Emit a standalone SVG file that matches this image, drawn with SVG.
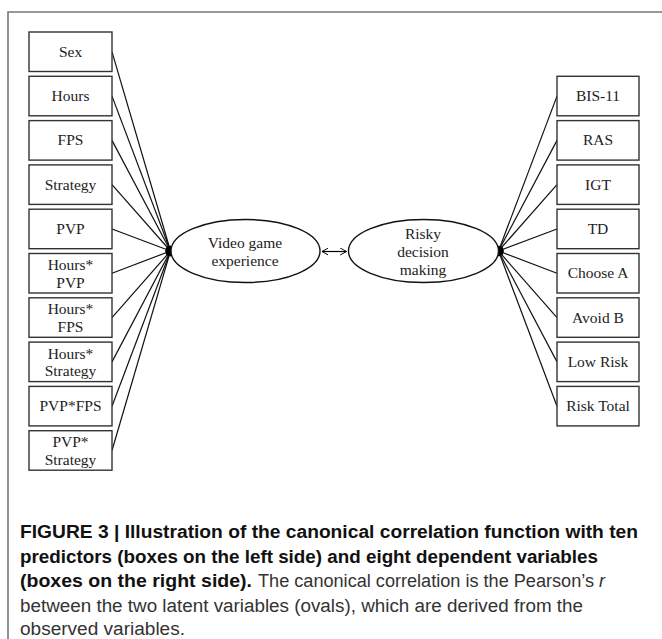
<svg xmlns="http://www.w3.org/2000/svg" width="662" height="639" viewBox="0 0 662 639">
<defs>
<marker id="ah" viewBox="0 0 10 10" refX="10" refY="5" markerWidth="7" markerHeight="5" markerUnits="userSpaceOnUse" orient="auto">
<path d="M0,0 L10,5 L0,10 z" fill="#000"/>
</marker>
<marker id="open" viewBox="0 0 10 10" refX="9" refY="5" markerWidth="7" markerHeight="8" markerUnits="userSpaceOnUse" orient="auto-start-reverse">
<path d="M0,0 L9,5 L0,10" fill="none" stroke="#000" stroke-width="1.4"/>
</marker>
<style>
.box{fill:#fff;stroke:#333;stroke-width:1.4}
.ell{fill:#fff;stroke:#111;stroke-width:1.4}
.t{font-family:"Liberation Serif","Times New Roman",serif;font-size:15.5px;fill:#222;text-anchor:middle}
.c{stroke:#111;stroke-width:1.2;fill:none;marker-end:url(#ah)}
.cap{font-family:"Liberation Sans Narrow","Liberation Sans",Arial,sans-serif;font-size:18px}
.b{font-weight:bold;fill:#111}
.r{fill:#333}
</style>
</defs>
<rect width="662" height="639" fill="#fff"/>
<path d="M8,639 V12 H662" fill="none" stroke="#777" stroke-width="1.6"/>

<g id="connectors">
<line class="c" x1="112" y1="51.8" x2="170.5" y2="251"/>
<line class="c" x1="112" y1="96.1" x2="170.5" y2="251"/>
<line class="c" x1="112" y1="140.4" x2="170.5" y2="251"/>
<line class="c" x1="112" y1="184.7" x2="170.5" y2="251"/>
<line class="c" x1="112" y1="229" x2="170.5" y2="251"/>
<line class="c" x1="112" y1="273.3" x2="170.5" y2="251"/>
<line class="c" x1="112" y1="317.6" x2="170.5" y2="251"/>
<line class="c" x1="112" y1="361.9" x2="170.5" y2="251"/>
<line class="c" x1="112" y1="406.2" x2="170.5" y2="251"/>
<line class="c" x1="112" y1="450.5" x2="170.5" y2="251"/>
<line class="c" x1="557" y1="96.1" x2="498.5" y2="251"/>
<line class="c" x1="557" y1="140.4" x2="498.5" y2="251"/>
<line class="c" x1="557" y1="184.7" x2="498.5" y2="251"/>
<line class="c" x1="557" y1="229" x2="498.5" y2="251"/>
<line class="c" x1="557" y1="273.3" x2="498.5" y2="251"/>
<line class="c" x1="557" y1="317.6" x2="498.5" y2="251"/>
<line class="c" x1="557" y1="361.9" x2="498.5" y2="251"/>
<line class="c" x1="557" y1="406.2" x2="498.5" y2="251"/>
<line x1="322" y1="251.5" x2="346.5" y2="251.5" stroke="#000" stroke-width="1.2" marker-start="url(#open)" marker-end="url(#open)"/>
</g>

<g id="sex"><rect class="box" x="29" y="32" width="83" height="39.5"/><text class="t" x="70.5" y="56.7">Sex</text></g>
<g id="hours"><rect class="box" x="29" y="76.3" width="83" height="39.5"/><text class="t" x="70.5" y="101">Hours</text></g>
<g id="fps"><rect class="box" x="29" y="120.6" width="83" height="39.5"/><text class="t" x="70.5" y="145.3">FPS</text></g>
<g id="strategy"><rect class="box" x="29" y="164.9" width="83" height="39.5"/><text class="t" x="70.5" y="189.6">Strategy</text></g>
<g id="pvp"><rect class="box" x="29" y="209.2" width="83" height="39.5"/><text class="t" x="70.5" y="233.9">PVP</text></g>
<g id="hours-pvp"><rect class="box" x="29" y="253.5" width="83" height="39.5"/><text class="t" x="70.5" y="270">Hours*</text><text class="t" x="70.5" y="287.5">PVP</text></g>
<g id="hours-fps"><rect class="box" x="29" y="297.8" width="83" height="39.5"/><text class="t" x="70.5" y="314.3">Hours*</text><text class="t" x="70.5" y="331.8">FPS</text></g>
<g id="hours-strategy"><rect class="box" x="29" y="342.1" width="83" height="39.5"/><text class="t" x="70.5" y="358.6">Hours*</text><text class="t" x="70.5" y="376.1">Strategy</text></g>
<g id="pvp-fps"><rect class="box" x="29" y="386.4" width="83" height="39.5"/><text class="t" x="70.5" y="411.1">PVP*FPS</text></g>
<g id="pvp-strategy"><rect class="box" x="29" y="430.7" width="83" height="39.5"/><text class="t" x="70.5" y="447.2">PVP*</text><text class="t" x="70.5" y="464.7">Strategy</text></g>

<g id="bis11"><rect class="box" x="557" y="76.3" width="82" height="39.5"/><text class="t" x="598" y="101">BIS-11</text></g>
<g id="ras"><rect class="box" x="557" y="120.6" width="82" height="39.5"/><text class="t" x="598" y="145.3">RAS</text></g>
<g id="igt"><rect class="box" x="557" y="164.9" width="82" height="39.5"/><text class="t" x="598" y="189.6">IGT</text></g>
<g id="td"><rect class="box" x="557" y="209.2" width="82" height="39.5"/><text class="t" x="598" y="233.9">TD</text></g>
<g id="choose-a"><rect class="box" x="557" y="253.5" width="82" height="39.5"/><text class="t" x="598" y="278.2">Choose A</text></g>
<g id="avoid-b"><rect class="box" x="557" y="297.8" width="82" height="39.5"/><text class="t" x="598" y="322.5">Avoid B</text></g>
<g id="low-risk"><rect class="box" x="557" y="342.1" width="82" height="39.5"/><text class="t" x="598" y="366.8">Low Risk</text></g>
<g id="risk-total"><rect class="box" x="557" y="386.4" width="82" height="39.5"/><text class="t" x="598" y="411.1">Risk Total</text></g>

<g id="video-game-experience"><ellipse class="ell" cx="245.5" cy="251" rx="74.5" ry="31.5"/><text class="t" x="245" y="247.5">Video game</text><text class="t" x="245" y="266">experience</text></g>
<g id="risky-decision-making"><ellipse class="ell" cx="423.5" cy="251" rx="75" ry="31.5"/><text class="t" x="423" y="238.5">Risky</text><text class="t" x="423" y="256.5">decision</text><text class="t" x="423" y="274.5">making</text></g>

<g id="caption">
<text class="cap b" x="20" y="538" textLength="618" lengthAdjust="spacingAndGlyphs">FIGURE 3 | Illustration of the canonical correlation function with ten</text>
<text class="cap b" x="20" y="562.5" textLength="578" lengthAdjust="spacingAndGlyphs">predictors (boxes on the left side) and eight dependent variables</text>
<text class="cap b" x="20" y="587" textLength="232" lengthAdjust="spacingAndGlyphs">(boxes on the right side).</text>
<text class="cap r" x="258" y="587" textLength="336" lengthAdjust="spacingAndGlyphs">The canonical correlation is the Pearson’s</text>
<text class="cap r" x="599" y="587" font-style="italic">r</text>
<text class="cap r" x="20" y="611.5" textLength="563" lengthAdjust="spacingAndGlyphs">between the two latent variables (ovals), which are derived from the</text>
<text class="cap r" x="20" y="635" textLength="165" lengthAdjust="spacingAndGlyphs">observed variables.</text>
</g>
</svg>
